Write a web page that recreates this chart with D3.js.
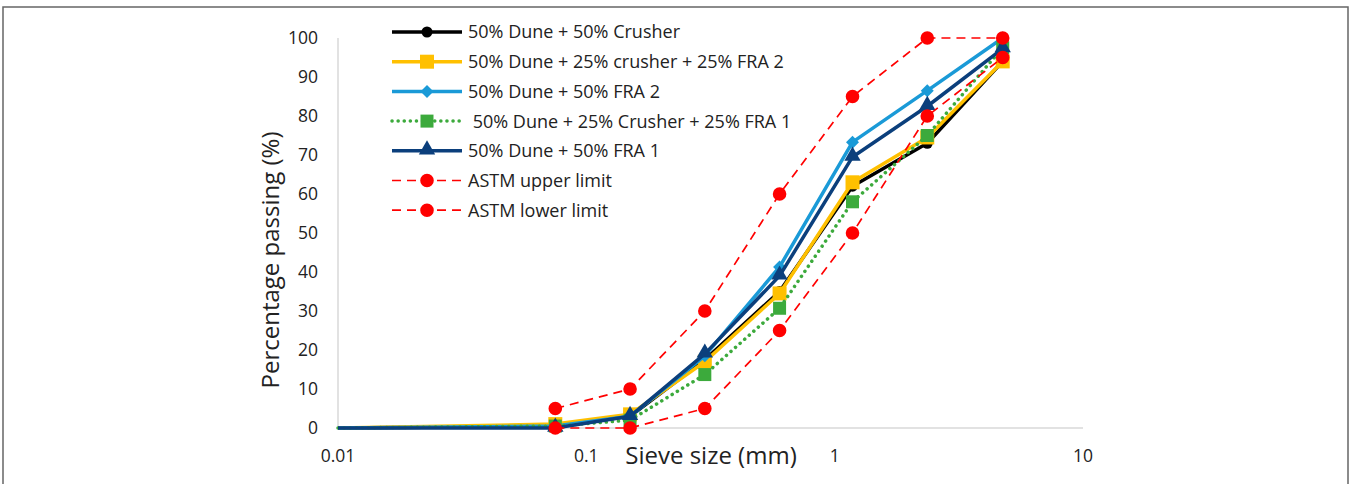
<!DOCTYPE html>
<meta charset="utf-8">
<style>
body { margin: 0; background: #fff; }
text { font-family: "Open Sans", "Noto Sans", sans-serif; fill: #222; white-space: pre; }
</style>
<body>
<script src="https://d3js.org/d3.v7.min.js"></script>
<script>

// sieve sizes (mm) and percent passing
var sieves = [0.01, 0.075, 0.15, 0.3, 0.6, 1.18, 2.36, 4.75];
var limitSieves = [0.075, 0.15, 0.3, 0.6, 1.18, 2.36, 4.75];

var duneCrusher     = [0, 0.5, 3, 17.5, 35, 62, 73, 94];
var duneCrusherFra2 = [0, 1, 3.5, 17, 34.5, 63, 74.5, 94];
var duneFra2        = [0, 0.5, 3, 18.5, 41.3, 73.3, 86.5, 100];
var duneCrusherFra1 = [0, 0.5, 2, 13.7, 30.7, 58, 75, 97.5];
var duneFra1        = [0, 0, 3, 19, 39, 69.5, 82.5, 97.3];
var astmUpper       = [5, 10, 30, 60, 85, 100, 100];
var astmLower       = [0, 0, 5, 25, 50, 80, 95];

var xTicks = [0.01, 0.1, 1, 10];
var yTicks = [0, 10, 20, 30, 40, 50, 60, 70, 80, 90, 100];

var series = [
  {name: "50% Dune + 50% Crusher", x: sieves, y: duneCrusher, color: "#000000", mark: "circle", r: 5.5, dash: null, w: 3.5},
  {name: "50% Dune + 25% crusher + 25% FRA 2", x: sieves, y: duneCrusherFra2, color: "#FFC000", mark: "square", r: 7, dash: null, w: 3.5},
  {name: "50% Dune + 50% FRA 2", x: sieves, y: duneFra2, color: "#1A9AD7", mark: "diamond", r: 6.5, dash: null, w: 3.5},
  {name: " 50% Dune + 25% Crusher + 25% FRA 1", x: sieves, y: duneCrusherFra1, color: "#3CAA3C", mark: "square", r: 6.5, dash: "0.1 6", w: 3.5, cap: "round"},
  {name: "50% Dune + 50% FRA 1", x: sieves, y: duneFra1, color: "#0B3F7C", mark: "triangle", r: 8.5, dash: null, w: 3.5},
  {name: "ASTM upper limit", x: limitSieves, y: astmUpper, color: "#FF0000", mark: "circle", r: 6.8, dash: "9 6", w: 1.7},
  {name: "ASTM lower limit", x: limitSieves, y: astmLower, color: "#FF0000", mark: "circle", r: 6.8, dash: "9 6", w: 1.7}
];

var W = 1351, H = 484;
var svg = d3.select("body").append("svg").attr("width", W).attr("height", H);

// frame (open at bottom)
svg.append("path")
    .attr("d", "M3," + H + "V7H1348V" + H)
    .attr("fill", "none").attr("stroke", "#666").attr("stroke-width", 1.5);

var x = d3.scaleLog().domain([0.01, 10]).range([338, 1083]);
var y = d3.scaleLinear().domain([0, 100]).range([428, 38]);

// axes
svg.append("line").attr("x1", 338).attr("x2", 338).attr("y1", y(100)).attr("y2", y(0))
    .attr("stroke", "#d9d9d9").attr("stroke-width", 1.5);
svg.append("line").attr("x1", x(0.01)).attr("x2", x(10)).attr("y1", y(0)).attr("y2", y(0))
    .attr("stroke", "#d9d9d9").attr("stroke-width", 1.5);

svg.selectAll(".ytick").data(yTicks).enter().append("text")
    .attr("x", 318).attr("y", function(d) { return y(d); })
    .attr("dy", "0.36em").attr("text-anchor", "end")
    .style("font-size", "17.5px").text(function(d) { return d; });

svg.selectAll(".xtick").data(xTicks).enter().append("text")
    .attr("x", function(d) { return x(d); }).attr("y", 462)
    .attr("text-anchor", "middle")
    .style("font-size", "17.5px").text(function(d) { return d; });

svg.append("text").attr("transform", "translate(279,260) rotate(-90)")
    .attr("text-anchor", "middle").style("font-size", "24px")
    .text("Percentage passing (%)");
svg.append("text").attr("x", 711).attr("y", 464)
    .attr("text-anchor", "middle").style("font-size", "24px")
    .text("Sieve size (mm)");

function symbolFor(s) {
  if (s.mark == "circle") return d3.symbol(d3.symbolCircle, Math.PI * s.r * s.r);
  if (s.mark == "square") return d3.symbol(d3.symbolSquare, 4 * s.r * s.r);
  if (s.mark == "diamond") return d3.symbol(d3.symbolSquare, 2 * s.r * s.r);
  return d3.symbol(d3.symbolTriangle, s.r * s.r * 1.6);
}

function drawMark(g, s, px, py) {
  var p = g.append("path").attr("d", symbolFor(s)()).attr("fill", s.color);
  if (s.mark == "diamond") p.attr("transform", "translate(" + px + "," + py + ") rotate(45)");
  else if (s.mark == "triangle") p.attr("transform", "translate(" + px + "," + (py - 1) + ")");
  else p.attr("transform", "translate(" + px + "," + py + ")");
}

var line = d3.line().x(function(d) { return x(d[0]); }).y(function(d) { return y(d[1]); });

series.forEach(function(s) {
  var pts = s.x.map(function(v, i) { return [v, s.y[i]]; });
  var g = svg.append("g");
  g.append("path").datum(pts).attr("d", line)
      .attr("fill", "none").attr("stroke", s.color).attr("stroke-width", s.w)
      .attr("stroke-dasharray", s.dash).attr("stroke-linecap", s.cap || "butt")
      .attr("stroke-linejoin", "round");
  pts.forEach(function(p) {
    if (p[0] > 0.01) drawMark(g, s, x(p[0]), y(p[1]));
  });
});

// legend
var leg = svg.append("g");
series.forEach(function(s, i) {
  var ly = 32 + i * 29.7;
  leg.append("line").attr("x1", 392).attr("x2", 462).attr("y1", ly).attr("y2", ly)
      .attr("stroke", s.color).attr("stroke-width", s.w)
      .attr("stroke-dasharray", s.dash).attr("stroke-linecap", s.cap || "butt");
  drawMark(leg, s, 427, ly);
  leg.append("text").attr("x", 468).attr("y", ly).attr("dy", "0.36em")
      .style("font-size", "18px").text(s.name);
});

</script>
</body>
